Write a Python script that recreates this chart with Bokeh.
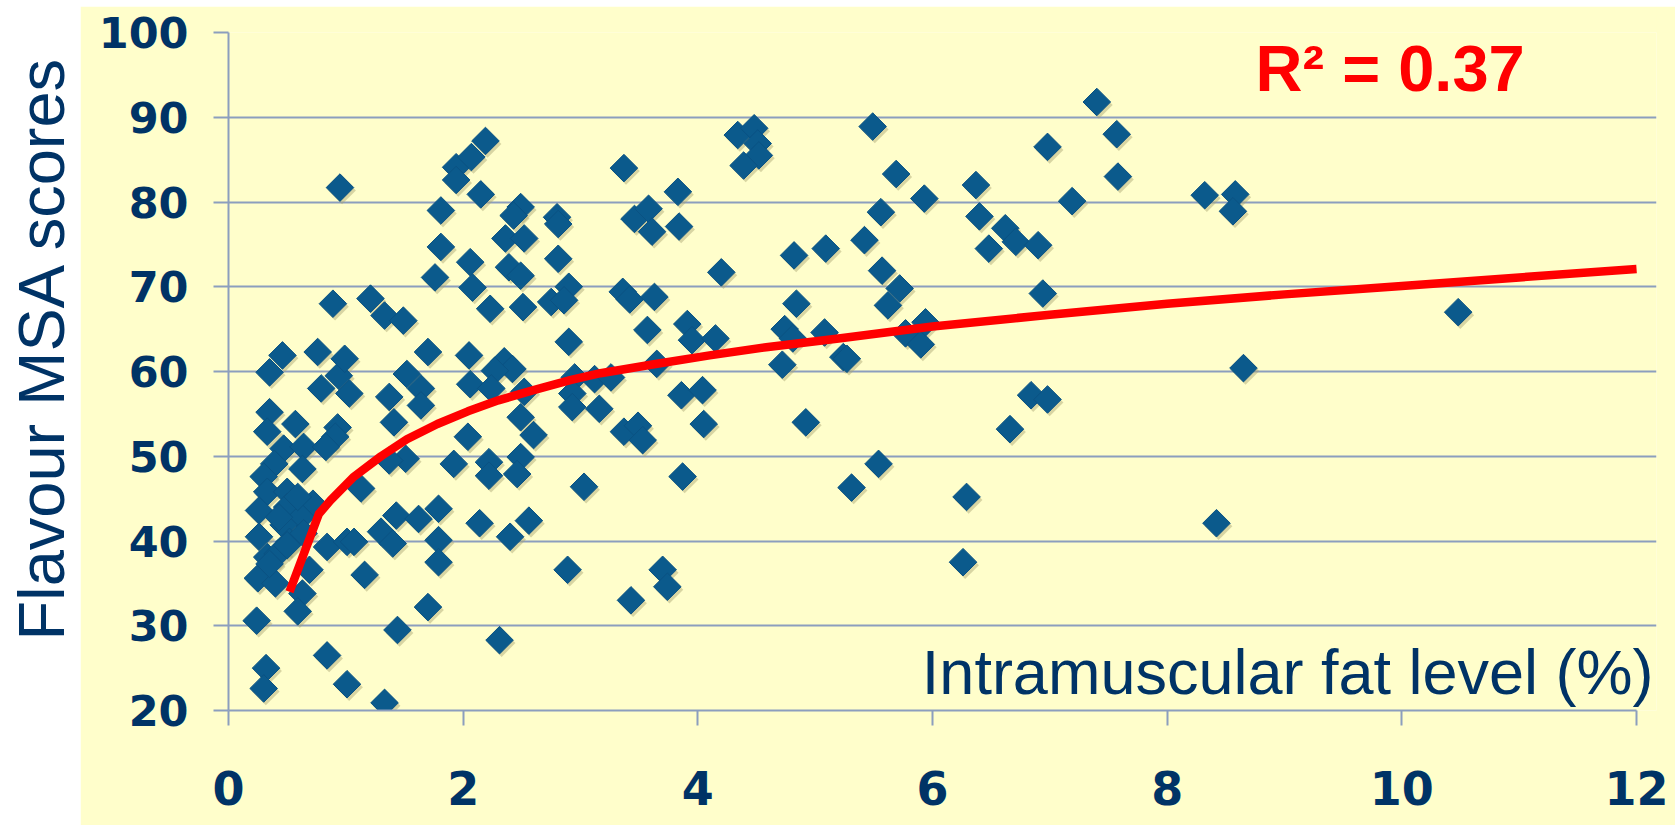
import math
from bokeh.plotting import figure
from bokeh.models import Label, FixedTicker, Range1d, Spacer
from bokeh.layouts import row, column
from bokeh.embed import file_html
from bokeh.resources import INLINE
from bokeh.core.properties import value

# ---- data ----
fat_pct = [
    0.35, 0.79, 0.94, 1.03, 1.52, 1.37, 1.64, 1.64, 1.41, 0.35, 0.57, 0.33, 0.93, 0.91,
    0.47, 0.64, 0.83, 0.39, 0.63, 0.30, 0.33, 0.50, 0.26, 0.50, 0.72, 0.62, 0.47, 0.26,
    0.52, 0.33, 0.42, 0.25, 0.40, 0.69, 0.63, 0.59, 0.24, 0.84, 1.01, 1.07, 1.13, 1.16,
    1.30, 1.40, 1.43, 1.62, 1.79, 1.79, 1.79, 1.70, 1.44, 0.84, 0.32, 0.30, 1.01, 1.33,
    2.04, 1.92, 1.51, 1.37, 2.06, 2.14, 0.59, 0.43, 0.64, 0.35, 0.50,
    0.95, 1.94, 1.94, 2.07, 2.19, 2.15, 1.81, 1.81, 2.06, 1.76, 2.08, 0.89, 1.21, 1.33,
    1.49, 0.46, 0.76, 0.99, 1.70, 2.05,
    2.49, 2.43, 2.80, 2.81, 2.36, 2.52, 2.81, 2.39, 2.49, 2.23, 2.51, 2.75, 2.90, 2.86,
    3.37, 3.46, 3.58, 3.61, 3.83, 3.84, 4.34, 4.48, 4.51, 4.52, 4.39, 5.49, 5.69, 5.56,
    5.42, 5.57, 5.72, 5.62, 4.20, 4.82, 5.09, 4.84, 3.36, 3.42, 3.63, 3.57, 3.91, 3.95,
    4.15, 4.74, 4.81, 5.08, 5.24, 5.27, 2.90, 2.35, 2.42, 4.72, 3.65,
    2.27, 2.24, 2.52, 2.49, 2.60, 2.22, 2.22, 2.49, 2.46, 3.03, 2.40, 2.56, 2.89, 2.31,
    2.95, 3.12, 3.26, 2.93, 2.93, 3.16, 3.37, 3.49, 3.53, 3.86, 4.04, 4.05, 3.87, 3.70,
    3.74, 3.43, 4.92, 5.54, 5.31,
    7.40, 7.57, 7.58, 6.98, 5.93, 6.37, 6.40, 7.19, 8.32, 8.58, 8.56, 6.62, 6.71, 6.90,
    6.48, 6.94, 5.77, 5.90, 5.94, 10.48, 8.65, 6.84, 6.98, 6.66, 6.29, 6.26, 8.42,
]
flavour = [
    59.9, 58.0, 59.5, 57.4, 59.7, 57.0, 58.0, 56.0, 54.0, 55.2, 53.8, 52.9, 53.4, 52.3,
    50.9, 51.1, 51.1, 49.1, 48.5, 47.6, 45.8, 45.8, 43.6, 44.0, 44.4, 42.8, 41.9, 40.5,
    39.9, 38.1, 38.5, 35.6, 35.0, 36.6, 33.8, 31.7, 30.6, 39.3, 39.9, 39.9, 46.2, 36.0,
    41.1, 39.7, 43.0, 42.6, 43.8, 40.1, 37.5, 32.2, 29.5, 26.5, 25.0, 22.6, 23.1, 20.9,
    52.3, 49.1, 49.7, 49.5, 58.5, 42.1, 45.2, 42.8, 40.9, 37.3, 39.5,
    81.7, 84.1, 82.6, 85.3, 87.2, 80.9, 79.0, 74.7, 72.9, 71.1, 69.9, 68.0, 68.6, 66.6,
    66.0, 61.9, 62.3, 61.5, 62.3, 61.9,
    79.4, 78.4, 78.2, 77.4, 75.7, 75.7, 73.3, 72.3, 71.3, 67.4, 67.6, 68.2, 70.0, 68.4,
    84.0, 78.0, 79.2, 76.5, 81.2, 77.1, 87.9, 88.7, 86.9, 85.5, 84.3, 88.9, 83.3, 78.8,
    75.5, 71.9, 69.8, 67.8, 71.7, 73.7, 74.5, 68.0, 69.4, 68.5, 68.8, 64.9, 65.6, 63.7,
    63.9, 65.0, 63.9, 64.6, 61.7, 61.5, 63.5, 61.2, 60.3, 60.8, 60.9,
    60.1, 58.0, 57.6, 54.6, 52.5, 49.3, 47.7, 49.9, 47.9, 46.4, 40.5, 42.4, 36.6, 28.3,
    59.3, 59.1, 59.3, 57.4, 55.8, 55.6, 52.9, 53.6, 51.9, 57.2, 57.8, 53.8, 47.6, 36.6,
    34.6, 33.0, 54.0, 49.1, 46.3,
    91.8, 88.0, 83.0, 86.5, 80.4, 82.0, 78.3, 80.1, 80.8, 80.9, 78.9, 76.9, 75.3, 74.9,
    74.5, 69.2, 64.5, 63.2, 65.8, 67.0, 60.4, 57.2, 56.7, 53.2, 45.2, 37.5, 42.1,
]
trend_x = [0.52, 0.77, 0.87, 1.07, 1.30, 1.52, 1.78, 2.04, 2.30, 2.60, 2.92, 3.17, 3.60,
           4.10, 4.60, 5.20, 6.00, 7.00, 8.00, 9.00, 10.00, 11.00, 12.00]
trend_y = [34.0, 43.2, 44.8, 47.6, 50.0, 52.0, 53.8, 55.3, 56.6, 57.8, 59.0, 59.8, 60.8,
           61.9, 62.9, 63.9, 65.3, 66.7, 68.0, 69.1, 70.1, 71.1, 72.1]
x_ticks = [0, 2, 4, 6, 8, 10, 12]
y_ticks = [20, 30, 40, 50, 60, 70, 80, 90, 100]
r2_text = "R\u00b2 = 0.37"
x_title = "Intramuscular fat level (%)"
y_title = "Flavour MSA scores"

# ---- style ----
BG = "#FFFECB"
NAVY = "#003366"
GRID = "#8C9EBE"
MARK = "#0B5A8C"
H = 819

main = figure(width=1595, height=H, x_range=Range1d(0, 12.17), y_range=Range1d(20, 100),
              output_backend="svg", toolbar_location=None,
              min_border_left=148, min_border_right=19, min_border_top=26,
              min_border_bottom=115)
main.background_fill_color = BG
main.border_fill_color = BG
main.outline_line_color = None
main.xgrid.grid_line_color = None
main.ygrid.grid_line_color = GRID
main.ygrid.grid_line_width = 2
main.ygrid.bounds = (0, 12)

main.xaxis.ticker = FixedTicker(ticks=x_ticks)
main.yaxis.ticker = FixedTicker(ticks=y_ticks)
main.xaxis.bounds = (0, 12)
for ax, size, stand in ((main.xaxis, "46px", 45), (main.yaxis, "43px", 25)):
    ax.major_label_text_font = "DejaVu Sans"
    ax.major_label_text_font_style = "bold"
    ax.major_label_text_font_size = size
    ax.major_label_text_color = NAVY
    ax.major_label_standoff = stand
    ax.axis_line_color = GRID
    ax.axis_line_width = 2
    ax.major_tick_line_color = GRID
    ax.major_tick_line_width = 2
    ax.major_tick_out = 15
    ax.major_tick_in = 0
    ax.minor_tick_line_color = None

# shadow then markers
main.scatter([x + 0.018 for x in fat_pct], [y - 0.35 for y in flavour], marker="square",
             angle=math.pi / 4, size=19.5, fill_color="#A8A470", fill_alpha=0.45,
             line_color=None)
main.scatter(fat_pct, flavour, marker="square", angle=math.pi / 4, size=19.5,
             fill_color=MARK, line_color="#0A5283", line_width=1)
main.line(trend_x, trend_y, line_color="#FF0000", line_width=8.5, line_join="round")

main.add_layout(Label(x=8.753, y=95.8, text=r2_text, text_font="Liberation Sans",
                      text_font_style="bold", text_font_size="65px", text_color="#FF0000",
                      text_baseline="middle", text_align="left"))
main.add_layout(Label(x=12.145, y=24.6, text=x_title, text_font="Liberation Sans",
                      text_font_size="63px", text_color=NAVY,
                      text_baseline="middle", text_align="right"))

left = figure(width=80, height=H, x_range=Range1d(0, 80), y_range=Range1d(0, H),
              output_backend="svg", toolbar_location=None, min_border=0,
              x_axis_location=None, y_axis_location=None)
left.grid.visible = False
left.outline_line_color = None
left.background_fill_color = "white"
left.border_fill_color = "white"
left.text(x=[41.4], y=[438], text=[y_title], angle=math.pi / 2, text_align="center",
          text_baseline="middle", text_font=value("Liberation Sans"),
          text_font_size=value("65px"), text_color=NAVY)

layout = column(Spacer(width=1675, height=6), row(left, main, spacing=0), spacing=0)
open("out.html", "w").write(file_html(layout, INLINE))
